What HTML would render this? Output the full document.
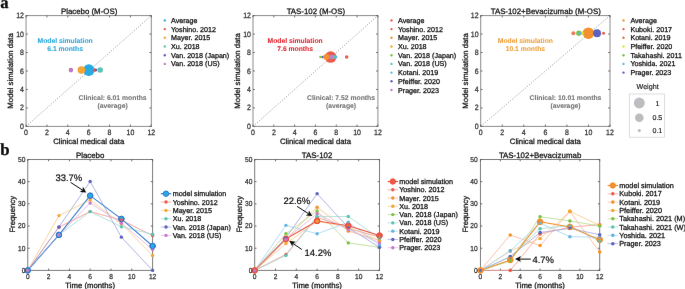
<!DOCTYPE html>
<html lang="en">
<head>
<meta charset="utf-8">
<title>Model simulation vs clinical data</title>
<style>
html,body{margin:0;padding:0;background:#fff;}
body{width:685px;height:289px;overflow:hidden;}
svg{display:block;font-family:"Liberation Sans",Arial,Helvetica,sans-serif;}
svg text{text-rendering:geometricPrecision;stroke-width:0.28px;stroke-linejoin:round;}
</style>
</head>
<body>
<svg width="685" height="289" viewBox="0 0 685 289">
<defs><filter id="soft" x="0" y="0" width="100%" height="100%" filterUnits="userSpaceOnUse" color-interpolation-filters="sRGB"><feConvolveMatrix order="3" kernelMatrix="0 0.035 0 0.035 0.86 0.035 0 0.035 0" divisor="1" edgeMode="duplicate" preserveAlpha="true"/></filter></defs>
<rect width="685" height="289" fill="#ffffff"/>
<g filter="url(#soft)">
<rect width="685" height="289" fill="#ffffff"/>
<text x="0.2" y="8.3" font-family="Liberation Serif, serif" font-weight="bold" font-size="16.6" fill="#0c0c0c" stroke="#0c0c0c" stroke-width="0.15">a</text>
<text x="0.3" y="155.2" font-family="Liberation Serif, serif" font-weight="bold" font-size="16.8" fill="#0c0c0c" stroke="#0c0c0c" stroke-width="0.15">b</text>
<line x1="26.05" y1="126.40" x2="151.30" y2="15.60" stroke="#858585" stroke-width="0.8" stroke-dasharray="1.15 1.62"/>
<circle cx="88.78" cy="70.08" r="5.8" fill="#29ABE2"/>
<circle cx="81.37" cy="70.08" r="3.8" fill="#F6A531"/>
<circle cx="70.93" cy="70.08" r="2.3" fill="#BE7ABF"/>
<circle cx="100.16" cy="70.08" r="2.75" fill="#5CC3B5"/>
<circle cx="94.73" cy="70.08" r="1.8" fill="#EB5B4C"/>
<circle cx="95.98" cy="70.08" r="1.3" fill="#5C63BE"/>
<rect x="26.05" y="15.60" width="125.25" height="110.80" fill="none" stroke="#8c8c8c" stroke-width="1"/>
<path d="M26.05 126.40v-1.8M26.05 15.60v1.8M46.93 126.40v-1.8M46.93 15.60v1.8M67.80 126.40v-1.8M67.80 15.60v1.8M88.68 126.40v-1.8M88.68 15.60v1.8M109.55 126.40v-1.8M109.55 15.60v1.8M130.43 126.40v-1.8M130.43 15.60v1.8M151.30 126.40v-1.8M151.30 15.60v1.8M26.05 126.40h1.8M151.30 126.40h-1.8M26.05 107.93h1.8M151.30 107.93h-1.8M26.05 89.47h1.8M151.30 89.47h-1.8M26.05 71.00h1.8M151.30 71.00h-1.8M26.05 52.53h1.8M151.30 52.53h-1.8M26.05 34.07h1.8M151.30 34.07h-1.8M26.05 15.60h1.8M151.30 15.60h-1.8" stroke="#5a5a5a" stroke-width="0.9" fill="none"/>
<text transform="translate(26.05 134.85) scale(0.9 1)" font-size="7.75" fill="#333333" stroke="#333333" text-anchor="middle" style="stroke-width:0.26px">0</text>
<text transform="translate(46.93 134.85) scale(0.9 1)" font-size="7.75" fill="#333333" stroke="#333333" text-anchor="middle" style="stroke-width:0.26px">2</text>
<text transform="translate(67.80 134.85) scale(0.9 1)" font-size="7.75" fill="#333333" stroke="#333333" text-anchor="middle" style="stroke-width:0.26px">4</text>
<text transform="translate(88.68 134.85) scale(0.9 1)" font-size="7.75" fill="#333333" stroke="#333333" text-anchor="middle" style="stroke-width:0.26px">6</text>
<text transform="translate(109.55 134.85) scale(0.9 1)" font-size="7.75" fill="#333333" stroke="#333333" text-anchor="middle" style="stroke-width:0.26px">8</text>
<text transform="translate(130.43 134.85) scale(0.9 1)" font-size="7.75" fill="#333333" stroke="#333333" text-anchor="middle" style="stroke-width:0.26px">10</text>
<text transform="translate(151.30 134.85) scale(0.9 1)" font-size="7.75" fill="#333333" stroke="#333333" text-anchor="middle" style="stroke-width:0.26px">12</text>
<text transform="translate(23.95 128.90) scale(0.9 1)" font-size="7.75" fill="#333333" stroke="#333333" text-anchor="end" style="stroke-width:0.26px">0</text>
<text transform="translate(23.95 110.43) scale(0.9 1)" font-size="7.75" fill="#333333" stroke="#333333" text-anchor="end" style="stroke-width:0.26px">2</text>
<text transform="translate(23.95 91.97) scale(0.9 1)" font-size="7.75" fill="#333333" stroke="#333333" text-anchor="end" style="stroke-width:0.26px">4</text>
<text transform="translate(23.95 73.50) scale(0.9 1)" font-size="7.75" fill="#333333" stroke="#333333" text-anchor="end" style="stroke-width:0.26px">6</text>
<text transform="translate(23.95 55.03) scale(0.9 1)" font-size="7.75" fill="#333333" stroke="#333333" text-anchor="end" style="stroke-width:0.26px">8</text>
<text transform="translate(23.95 36.57) scale(0.9 1)" font-size="7.75" fill="#333333" stroke="#333333" text-anchor="end" style="stroke-width:0.26px">10</text>
<text transform="translate(23.95 18.10) scale(0.9 1)" font-size="7.75" fill="#333333" stroke="#333333" text-anchor="end" style="stroke-width:0.26px">12</text>
<text x="89.08" y="13.95" font-size="7.86" fill="#141414" stroke="#141414" text-anchor="middle">Placebo (M-OS)</text>
<text x="88.68" y="144.00" font-size="7.75" fill="#141414" stroke="#141414" text-anchor="middle">Clinical medical data</text>
<text transform="translate(13.30 70.95) rotate(-90)" font-size="7.75" fill="#141414" stroke="#141414" text-anchor="middle">Model simulation data</text>
<text x="65.10" y="42.50" font-size="6.75" fill="#2AA6DD" stroke="#2AA6DD" text-anchor="middle" font-weight="bold" style="stroke-width:0.06px">Model simulation</text>
<text x="65.10" y="50.65" font-size="6.75" fill="#2AA6DD" stroke="#2AA6DD" text-anchor="middle" font-weight="bold" style="stroke-width:0.06px">6.1 months</text>
<text x="112.60" y="99.55" font-size="6.8" fill="#747474" stroke="#747474" text-anchor="middle" font-weight="bold" style="stroke-width:0.08px">Clinical: 6.01 months</text>
<text x="112.60" y="107.65" font-size="6.8" fill="#747474" stroke="#747474" text-anchor="middle" font-weight="bold" style="stroke-width:0.08px">(average)</text>
<circle cx="164.80" cy="20.40" r="1.18" fill="#29ABE2"/>
<text x="171.00" y="22.95" font-size="7.15" fill="#141414" stroke="#141414" text-anchor="start">Average</text>
<circle cx="164.80" cy="29.10" r="1.18" fill="#EB5B4C"/>
<text x="171.00" y="31.65" font-size="7.15" fill="#141414" stroke="#141414" text-anchor="start">Yoshino. 2012</text>
<circle cx="164.80" cy="37.80" r="1.18" fill="#F6A531"/>
<text x="171.00" y="40.35" font-size="7.15" fill="#141414" stroke="#141414" text-anchor="start">Mayer. 2015</text>
<circle cx="164.80" cy="46.50" r="1.18" fill="#5CC3B5"/>
<text x="171.00" y="49.05" font-size="7.15" fill="#141414" stroke="#141414" text-anchor="start">Xu. 2018</text>
<circle cx="164.80" cy="55.20" r="1.18" fill="#5C63BE"/>
<text x="171.00" y="57.75" font-size="7.15" fill="#141414" stroke="#141414" text-anchor="start">Van. 2018 (Japan)</text>
<circle cx="164.80" cy="63.90" r="1.18" fill="#C879C6"/>
<text x="171.00" y="66.45" font-size="7.15" fill="#141414" stroke="#141414" text-anchor="start">Van. 2018 (US)</text>
<line x1="253.00" y1="126.40" x2="377.90" y2="15.60" stroke="#858585" stroke-width="0.8" stroke-dasharray="1.15 1.62"/>
<circle cx="330.65" cy="57.06" r="5.75" fill="#EB5B4C"/>
<circle cx="320.55" cy="57.06" r="1.3" fill="#7DC242"/>
<circle cx="322.74" cy="57.06" r="1.2" fill="#5C63BE"/>
<circle cx="326.38" cy="57.06" r="3.0" fill="#F3902F"/>
<circle cx="335.75" cy="57.06" r="1.7" fill="#62B5E5"/>
<circle cx="333.46" cy="57.06" r="2.0" fill="#5CC3B5"/>
<circle cx="331.06" cy="57.06" r="2.2" fill="#BC86C9"/>
<circle cx="346.67" cy="57.06" r="1.75" fill="#EB5B4C"/>
<rect x="253.00" y="15.60" width="124.90" height="110.80" fill="none" stroke="#8c8c8c" stroke-width="1"/>
<path d="M253.00 126.40v-1.8M253.00 15.60v1.8M273.82 126.40v-1.8M273.82 15.60v1.8M294.63 126.40v-1.8M294.63 15.60v1.8M315.45 126.40v-1.8M315.45 15.60v1.8M336.27 126.40v-1.8M336.27 15.60v1.8M357.08 126.40v-1.8M357.08 15.60v1.8M377.90 126.40v-1.8M377.90 15.60v1.8M253.00 126.40h1.8M377.90 126.40h-1.8M253.00 107.93h1.8M377.90 107.93h-1.8M253.00 89.47h1.8M377.90 89.47h-1.8M253.00 71.00h1.8M377.90 71.00h-1.8M253.00 52.53h1.8M377.90 52.53h-1.8M253.00 34.07h1.8M377.90 34.07h-1.8M253.00 15.60h1.8M377.90 15.60h-1.8" stroke="#5a5a5a" stroke-width="0.9" fill="none"/>
<text transform="translate(253.00 134.85) scale(0.9 1)" font-size="7.75" fill="#333333" stroke="#333333" text-anchor="middle" style="stroke-width:0.26px">0</text>
<text transform="translate(273.82 134.85) scale(0.9 1)" font-size="7.75" fill="#333333" stroke="#333333" text-anchor="middle" style="stroke-width:0.26px">2</text>
<text transform="translate(294.63 134.85) scale(0.9 1)" font-size="7.75" fill="#333333" stroke="#333333" text-anchor="middle" style="stroke-width:0.26px">4</text>
<text transform="translate(315.45 134.85) scale(0.9 1)" font-size="7.75" fill="#333333" stroke="#333333" text-anchor="middle" style="stroke-width:0.26px">6</text>
<text transform="translate(336.27 134.85) scale(0.9 1)" font-size="7.75" fill="#333333" stroke="#333333" text-anchor="middle" style="stroke-width:0.26px">8</text>
<text transform="translate(357.08 134.85) scale(0.9 1)" font-size="7.75" fill="#333333" stroke="#333333" text-anchor="middle" style="stroke-width:0.26px">10</text>
<text transform="translate(377.90 134.85) scale(0.9 1)" font-size="7.75" fill="#333333" stroke="#333333" text-anchor="middle" style="stroke-width:0.26px">12</text>
<text transform="translate(250.90 128.90) scale(0.9 1)" font-size="7.75" fill="#333333" stroke="#333333" text-anchor="end" style="stroke-width:0.26px">0</text>
<text transform="translate(250.90 110.43) scale(0.9 1)" font-size="7.75" fill="#333333" stroke="#333333" text-anchor="end" style="stroke-width:0.26px">2</text>
<text transform="translate(250.90 91.97) scale(0.9 1)" font-size="7.75" fill="#333333" stroke="#333333" text-anchor="end" style="stroke-width:0.26px">4</text>
<text transform="translate(250.90 73.50) scale(0.9 1)" font-size="7.75" fill="#333333" stroke="#333333" text-anchor="end" style="stroke-width:0.26px">6</text>
<text transform="translate(250.90 55.03) scale(0.9 1)" font-size="7.75" fill="#333333" stroke="#333333" text-anchor="end" style="stroke-width:0.26px">8</text>
<text transform="translate(250.90 36.57) scale(0.9 1)" font-size="7.75" fill="#333333" stroke="#333333" text-anchor="end" style="stroke-width:0.26px">10</text>
<text transform="translate(250.90 18.10) scale(0.9 1)" font-size="7.75" fill="#333333" stroke="#333333" text-anchor="end" style="stroke-width:0.26px">12</text>
<text x="315.85" y="13.95" font-size="7.86" fill="#141414" stroke="#141414" text-anchor="middle">TAS-102 (M-OS)</text>
<text x="315.45" y="144.00" font-size="7.75" fill="#141414" stroke="#141414" text-anchor="middle">Clinical medical data</text>
<text transform="translate(239.60 70.95) rotate(-90)" font-size="7.75" fill="#141414" stroke="#141414" text-anchor="middle">Model simulation data</text>
<text x="295.10" y="42.50" font-size="6.75" fill="#E2252E" stroke="#E2252E" text-anchor="middle" font-weight="bold" style="stroke-width:0.06px">Model simulation</text>
<text x="295.10" y="50.65" font-size="6.75" fill="#E2252E" stroke="#E2252E" text-anchor="middle" font-weight="bold" style="stroke-width:0.06px">7.6 months</text>
<text x="341.00" y="99.55" font-size="6.8" fill="#747474" stroke="#747474" text-anchor="middle" font-weight="bold" style="stroke-width:0.08px">Clinical: 7.52 months</text>
<text x="341.00" y="107.65" font-size="6.8" fill="#747474" stroke="#747474" text-anchor="middle" font-weight="bold" style="stroke-width:0.08px">(average)</text>
<circle cx="391.50" cy="20.40" r="1.18" fill="#EB5B4C"/>
<text x="398.00" y="22.95" font-size="7.15" fill="#141414" stroke="#141414" text-anchor="start">Average</text>
<circle cx="391.50" cy="29.10" r="1.18" fill="#EB5B4C"/>
<text x="398.00" y="31.65" font-size="7.15" fill="#141414" stroke="#141414" text-anchor="start">Yoshino. 2012</text>
<circle cx="391.50" cy="37.80" r="1.18" fill="#F3902F"/>
<text x="398.00" y="40.35" font-size="7.15" fill="#141414" stroke="#141414" text-anchor="start">Mayer. 2015</text>
<circle cx="391.50" cy="46.50" r="1.18" fill="#F6A531"/>
<text x="398.00" y="49.05" font-size="7.15" fill="#141414" stroke="#141414" text-anchor="start">Xu. 2018</text>
<circle cx="391.50" cy="55.20" r="1.18" fill="#7DC242"/>
<text x="398.00" y="57.75" font-size="7.15" fill="#141414" stroke="#141414" text-anchor="start">Van. 2018 (Japan)</text>
<circle cx="391.50" cy="63.90" r="1.18" fill="#5CC3B5"/>
<text x="398.00" y="66.45" font-size="7.15" fill="#141414" stroke="#141414" text-anchor="start">Van. 2018 (US)</text>
<circle cx="391.50" cy="72.60" r="1.18" fill="#62B5E5"/>
<text x="398.00" y="75.15" font-size="7.15" fill="#141414" stroke="#141414" text-anchor="start">Kotani. 2019</text>
<circle cx="391.50" cy="81.30" r="1.18" fill="#5C63BE"/>
<text x="398.00" y="83.85" font-size="7.15" fill="#141414" stroke="#141414" text-anchor="start">Pfeiffer. 2020</text>
<circle cx="391.50" cy="90.00" r="1.18" fill="#C879C6"/>
<text x="398.00" y="92.55" font-size="7.15" fill="#141414" stroke="#141414" text-anchor="start">Prager. 2023</text>
<line x1="480.70" y1="126.40" x2="610.00" y2="15.60" stroke="#858585" stroke-width="0.8" stroke-dasharray="1.15 1.62"/>
<circle cx="588.45" cy="33.14" r="5.75" fill="#F3902F"/>
<circle cx="573.37" cy="33.14" r="2.0" fill="#EF7A5A"/>
<circle cx="581.77" cy="33.14" r="1.9" fill="#E9E03C"/>
<circle cx="578.75" cy="33.14" r="2.6" fill="#7DC242"/>
<circle cx="579.83" cy="33.14" r="1.5" fill="#62B5E5"/>
<circle cx="597.07" cy="33.14" r="4.0" fill="#5C63BE"/>
<circle cx="603.53" cy="33.14" r="1.5" fill="#EB5B4C"/>
<rect x="480.70" y="15.60" width="129.30" height="110.80" fill="none" stroke="#8c8c8c" stroke-width="1"/>
<path d="M480.70 126.40v-1.8M480.70 15.60v1.8M502.25 126.40v-1.8M502.25 15.60v1.8M523.80 126.40v-1.8M523.80 15.60v1.8M545.35 126.40v-1.8M545.35 15.60v1.8M566.90 126.40v-1.8M566.90 15.60v1.8M588.45 126.40v-1.8M588.45 15.60v1.8M610.00 126.40v-1.8M610.00 15.60v1.8M480.70 126.40h1.8M610.00 126.40h-1.8M480.70 107.93h1.8M610.00 107.93h-1.8M480.70 89.47h1.8M610.00 89.47h-1.8M480.70 71.00h1.8M610.00 71.00h-1.8M480.70 52.53h1.8M610.00 52.53h-1.8M480.70 34.07h1.8M610.00 34.07h-1.8M480.70 15.60h1.8M610.00 15.60h-1.8" stroke="#5a5a5a" stroke-width="0.9" fill="none"/>
<text transform="translate(480.70 134.85) scale(0.9 1)" font-size="7.75" fill="#333333" stroke="#333333" text-anchor="middle" style="stroke-width:0.26px">0</text>
<text transform="translate(502.25 134.85) scale(0.9 1)" font-size="7.75" fill="#333333" stroke="#333333" text-anchor="middle" style="stroke-width:0.26px">2</text>
<text transform="translate(523.80 134.85) scale(0.9 1)" font-size="7.75" fill="#333333" stroke="#333333" text-anchor="middle" style="stroke-width:0.26px">4</text>
<text transform="translate(545.35 134.85) scale(0.9 1)" font-size="7.75" fill="#333333" stroke="#333333" text-anchor="middle" style="stroke-width:0.26px">6</text>
<text transform="translate(566.90 134.85) scale(0.9 1)" font-size="7.75" fill="#333333" stroke="#333333" text-anchor="middle" style="stroke-width:0.26px">8</text>
<text transform="translate(588.45 134.85) scale(0.9 1)" font-size="7.75" fill="#333333" stroke="#333333" text-anchor="middle" style="stroke-width:0.26px">10</text>
<text transform="translate(610.00 134.85) scale(0.9 1)" font-size="7.75" fill="#333333" stroke="#333333" text-anchor="middle" style="stroke-width:0.26px">12</text>
<text transform="translate(478.60 128.90) scale(0.9 1)" font-size="7.75" fill="#333333" stroke="#333333" text-anchor="end" style="stroke-width:0.26px">0</text>
<text transform="translate(478.60 110.43) scale(0.9 1)" font-size="7.75" fill="#333333" stroke="#333333" text-anchor="end" style="stroke-width:0.26px">2</text>
<text transform="translate(478.60 91.97) scale(0.9 1)" font-size="7.75" fill="#333333" stroke="#333333" text-anchor="end" style="stroke-width:0.26px">4</text>
<text transform="translate(478.60 73.50) scale(0.9 1)" font-size="7.75" fill="#333333" stroke="#333333" text-anchor="end" style="stroke-width:0.26px">6</text>
<text transform="translate(478.60 55.03) scale(0.9 1)" font-size="7.75" fill="#333333" stroke="#333333" text-anchor="end" style="stroke-width:0.26px">8</text>
<text transform="translate(478.60 36.57) scale(0.9 1)" font-size="7.75" fill="#333333" stroke="#333333" text-anchor="end" style="stroke-width:0.26px">10</text>
<text transform="translate(478.60 18.10) scale(0.9 1)" font-size="7.75" fill="#333333" stroke="#333333" text-anchor="end" style="stroke-width:0.26px">12</text>
<text x="545.75" y="13.95" font-size="7.86" fill="#141414" stroke="#141414" text-anchor="middle">TAS-102+Bevacizumab (M-OS)</text>
<text x="545.35" y="144.00" font-size="7.75" fill="#141414" stroke="#141414" text-anchor="middle">Clinical medical data</text>
<text transform="translate(468.15 70.95) rotate(-90)" font-size="7.75" fill="#141414" stroke="#141414" text-anchor="middle">Model simulation data</text>
<text x="525.40" y="42.50" font-size="6.75" fill="#EFA03A" stroke="#EFA03A" text-anchor="middle" font-weight="bold" style="stroke-width:0.06px">Model simulation</text>
<text x="525.40" y="50.65" font-size="6.75" fill="#EFA03A" stroke="#EFA03A" text-anchor="middle" font-weight="bold" style="stroke-width:0.06px">10.1 months</text>
<text x="565.50" y="99.55" font-size="6.8" fill="#747474" stroke="#747474" text-anchor="middle" font-weight="bold" style="stroke-width:0.08px">Clinical: 10.01 months</text>
<text x="565.50" y="107.65" font-size="6.8" fill="#747474" stroke="#747474" text-anchor="middle" font-weight="bold" style="stroke-width:0.08px">(average)</text>
<circle cx="623.50" cy="20.40" r="1.18" fill="#F3902F"/>
<text x="630.40" y="22.95" font-size="7.15" fill="#141414" stroke="#141414" text-anchor="start">Average</text>
<circle cx="623.50" cy="29.10" r="1.18" fill="#EB5B4C"/>
<text x="630.40" y="31.65" font-size="7.15" fill="#141414" stroke="#141414" text-anchor="start">Kuboki. 2017</text>
<circle cx="623.50" cy="37.80" r="1.18" fill="#F0694A"/>
<text x="630.40" y="40.35" font-size="7.15" fill="#141414" stroke="#141414" text-anchor="start">Kotani. 2019</text>
<circle cx="623.50" cy="46.50" r="1.18" fill="#E9E03C"/>
<text x="630.40" y="49.05" font-size="7.15" fill="#141414" stroke="#141414" text-anchor="start">Pfeiffer. 2020</text>
<circle cx="623.50" cy="55.20" r="1.18" fill="#7DC242"/>
<text x="630.40" y="57.75" font-size="7.15" fill="#141414" stroke="#141414" text-anchor="start">Takahashi. 2011</text>
<circle cx="623.50" cy="63.90" r="1.18" fill="#62B5E5"/>
<text x="630.40" y="66.45" font-size="7.15" fill="#141414" stroke="#141414" text-anchor="start">Yoshida. 2021</text>
<circle cx="623.50" cy="72.60" r="1.18" fill="#5C63BE"/>
<text x="630.40" y="75.15" font-size="7.15" fill="#141414" stroke="#141414" text-anchor="start">Prager. 2023</text>
<text x="647.60" y="89.00" font-size="7.15" fill="#141414" stroke="#141414" text-anchor="middle" style="stroke-width:0.15px">Weight</text>
<rect x="629.3" y="94.0" width="35.2" height="43.2" fill="#fff" stroke="#cfcfcf" stroke-width="0.7"/>
<circle cx="639.3" cy="103.0" r="5.45" fill="#bdbdc1"/>
<text x="657.40" y="105.50" font-size="7.1" fill="#141414" stroke="#141414" text-anchor="middle" style="stroke-width:0.15px">1</text>
<circle cx="639.3" cy="117.7" r="4.3" fill="#bdbdc1"/>
<text x="657.40" y="120.20" font-size="7.1" fill="#141414" stroke="#141414" text-anchor="middle" style="stroke-width:0.15px">0.5</text>
<circle cx="639.3" cy="130.6" r="1.6" fill="#bdbdc1"/>
<text x="657.40" y="133.10" font-size="7.1" fill="#141414" stroke="#141414" text-anchor="middle" style="stroke-width:0.15px">0.1</text>
<rect x="27.75" y="159.50" width="124.85" height="110.90" fill="none" stroke="#7c7c7c" stroke-width="1"/>
<path d="M27.75 270.40v-1.8M27.75 159.50v1.8M48.56 270.40v-1.8M48.56 159.50v1.8M69.37 270.40v-1.8M69.37 159.50v1.8M90.17 270.40v-1.8M90.17 159.50v1.8M110.98 270.40v-1.8M110.98 159.50v1.8M131.79 270.40v-1.8M131.79 159.50v1.8M152.60 270.40v-1.8M152.60 159.50v1.8M27.75 270.40h1.8M152.60 270.40h-1.8M27.75 248.22h1.8M152.60 248.22h-1.8M27.75 226.04h1.8M152.60 226.04h-1.8M27.75 203.86h1.8M152.60 203.86h-1.8M27.75 181.68h1.8M152.60 181.68h-1.8M27.75 159.50h1.8M152.60 159.50h-1.8" stroke="#5a5a5a" stroke-width="0.9" fill="none"/>
<polyline points="27.75,270.40 58.96,227.15 90.17,211.62 121.39,220.05 152.60,235.58" fill="none" stroke="#F3998D" stroke-width="0.75" stroke-linejoin="round"/>
<polyline points="27.75,270.40 58.96,215.62 90.17,199.87 121.39,223.82 152.60,255.54" fill="none" stroke="#FACE8E" stroke-width="0.75" stroke-linejoin="round"/>
<polyline points="27.75,270.40 58.96,234.91 90.17,211.62 121.39,226.71 152.60,234.25" fill="none" stroke="#A5DED6" stroke-width="0.75" stroke-linejoin="round"/>
<polyline points="27.75,270.40 58.96,226.93 90.17,181.46 121.39,237.13 152.60,270.40" fill="none" stroke="#A5A9DB" stroke-width="0.75" stroke-linejoin="round"/>
<polyline points="27.75,270.40 58.96,234.91 90.17,202.97 121.39,223.16 152.60,249.55" fill="none" stroke="#E1B5E0" stroke-width="0.75" stroke-linejoin="round"/>
<polyline points="27.75,270.40 58.96,234.91 90.17,195.65 121.39,218.94 152.60,246.00" fill="none" stroke="#3B80D0" stroke-width="1.08" stroke-linejoin="round"/>
<polyline points="27.75,270.40 58.96,227.15 90.17,211.62 121.39,220.05 152.60,235.58" fill="none" stroke="#F3998D" stroke-width="0.75" stroke-linejoin="round" stroke-opacity="0.3"/>
<polyline points="27.75,270.40 58.96,215.62 90.17,199.87 121.39,223.82 152.60,255.54" fill="none" stroke="#FACE8E" stroke-width="0.75" stroke-linejoin="round" stroke-opacity="0.3"/>
<polyline points="27.75,270.40 58.96,234.91 90.17,211.62 121.39,226.71 152.60,234.25" fill="none" stroke="#A5DED6" stroke-width="0.75" stroke-linejoin="round" stroke-opacity="0.3"/>
<polyline points="27.75,270.40 58.96,226.93 90.17,181.46 121.39,237.13 152.60,270.40" fill="none" stroke="#A5A9DB" stroke-width="0.75" stroke-linejoin="round" stroke-opacity="0.3"/>
<polyline points="27.75,270.40 58.96,234.91 90.17,202.97 121.39,223.16 152.60,249.55" fill="none" stroke="#E1B5E0" stroke-width="0.75" stroke-linejoin="round" stroke-opacity="0.3"/>
<circle cx="27.75" cy="270.40" r="2.72" fill="#2AABE3" stroke="#2C72CA" stroke-width="0.9"/>
<circle cx="58.96" cy="234.91" r="2.72" fill="#2AABE3" stroke="#2C72CA" stroke-width="0.9"/>
<circle cx="90.17" cy="195.65" r="2.72" fill="#2AABE3" stroke="#2C72CA" stroke-width="0.9"/>
<circle cx="121.39" cy="218.94" r="2.72" fill="#2AABE3" stroke="#2C72CA" stroke-width="0.9"/>
<circle cx="152.60" cy="246.00" r="2.72" fill="#2AABE3" stroke="#2C72CA" stroke-width="0.9"/>
<circle cx="27.75" cy="270.40" r="1.4" fill="#EB5B4C"/>
<circle cx="58.96" cy="227.15" r="1.7" fill="#EB5B4C"/>
<circle cx="90.17" cy="211.62" r="1.7" fill="#EB5B4C"/>
<circle cx="121.39" cy="220.05" r="1.7" fill="#EB5B4C"/>
<circle cx="152.60" cy="235.58" r="1.7" fill="#EB5B4C"/>
<circle cx="27.75" cy="270.40" r="1.4" fill="#F6A531"/>
<circle cx="58.96" cy="215.62" r="1.7" fill="#F6A531"/>
<circle cx="90.17" cy="199.87" r="1.7" fill="#F6A531"/>
<circle cx="121.39" cy="223.82" r="1.7" fill="#F6A531"/>
<circle cx="152.60" cy="255.54" r="1.7" fill="#F6A531"/>
<circle cx="27.75" cy="270.40" r="1.4" fill="#5CC3B5"/>
<circle cx="58.96" cy="234.91" r="1.7" fill="#5CC3B5"/>
<circle cx="90.17" cy="211.62" r="1.7" fill="#5CC3B5"/>
<circle cx="121.39" cy="226.71" r="1.7" fill="#5CC3B5"/>
<circle cx="152.60" cy="234.25" r="1.7" fill="#5CC3B5"/>
<circle cx="27.75" cy="270.40" r="1.4" fill="#5C63BE"/>
<circle cx="58.96" cy="226.93" r="1.7" fill="#5C63BE"/>
<circle cx="90.17" cy="181.46" r="1.7" fill="#5C63BE"/>
<circle cx="121.39" cy="237.13" r="1.7" fill="#5C63BE"/>
<circle cx="152.60" cy="270.40" r="1.7" fill="#5C63BE"/>
<circle cx="27.75" cy="270.40" r="1.4" fill="#C879C6"/>
<circle cx="58.96" cy="234.91" r="1.7" fill="#C879C6"/>
<circle cx="90.17" cy="202.97" r="1.7" fill="#C879C6"/>
<circle cx="121.39" cy="223.16" r="1.7" fill="#C879C6"/>
<circle cx="152.60" cy="249.55" r="1.7" fill="#C879C6"/>
<circle cx="27.75" cy="270.40" r="2.72" fill="none" stroke="#2C72CA" stroke-width="0.9"/>
<circle cx="58.96" cy="234.91" r="2.72" fill="none" stroke="#2C72CA" stroke-width="0.9"/>
<circle cx="90.17" cy="195.65" r="2.72" fill="none" stroke="#2C72CA" stroke-width="0.9"/>
<circle cx="121.39" cy="218.94" r="2.72" fill="none" stroke="#2C72CA" stroke-width="0.9"/>
<circle cx="152.60" cy="246.00" r="2.72" fill="none" stroke="#2C72CA" stroke-width="0.9"/>
<text transform="translate(27.75 278.65) scale(0.92 1)" font-size="7.2" fill="#333333" stroke="#333333" text-anchor="middle" style="stroke-width:0.26px">0</text>
<text transform="translate(48.56 278.65) scale(0.92 1)" font-size="7.2" fill="#333333" stroke="#333333" text-anchor="middle" style="stroke-width:0.26px">2</text>
<text transform="translate(69.37 278.65) scale(0.92 1)" font-size="7.2" fill="#333333" stroke="#333333" text-anchor="middle" style="stroke-width:0.26px">4</text>
<text transform="translate(90.17 278.65) scale(0.92 1)" font-size="7.2" fill="#333333" stroke="#333333" text-anchor="middle" style="stroke-width:0.26px">6</text>
<text transform="translate(110.98 278.65) scale(0.92 1)" font-size="7.2" fill="#333333" stroke="#333333" text-anchor="middle" style="stroke-width:0.26px">8</text>
<text transform="translate(131.79 278.65) scale(0.92 1)" font-size="7.2" fill="#333333" stroke="#333333" text-anchor="middle" style="stroke-width:0.26px">10</text>
<text transform="translate(152.60 278.65) scale(0.92 1)" font-size="7.2" fill="#333333" stroke="#333333" text-anchor="middle" style="stroke-width:0.26px">12</text>
<text transform="translate(25.40 272.70) scale(0.92 1)" font-size="7.2" fill="#333333" stroke="#333333" text-anchor="end" style="stroke-width:0.26px">0</text>
<text transform="translate(25.40 250.52) scale(0.92 1)" font-size="7.2" fill="#333333" stroke="#333333" text-anchor="end" style="stroke-width:0.26px">10</text>
<text transform="translate(25.40 228.34) scale(0.92 1)" font-size="7.2" fill="#333333" stroke="#333333" text-anchor="end" style="stroke-width:0.26px">20</text>
<text transform="translate(25.40 206.16) scale(0.92 1)" font-size="7.2" fill="#333333" stroke="#333333" text-anchor="end" style="stroke-width:0.26px">30</text>
<text transform="translate(25.40 183.98) scale(0.92 1)" font-size="7.2" fill="#333333" stroke="#333333" text-anchor="end" style="stroke-width:0.26px">40</text>
<text transform="translate(25.40 161.80) scale(0.92 1)" font-size="7.2" fill="#333333" stroke="#333333" text-anchor="end" style="stroke-width:0.26px">50</text>
<text x="90.17" y="157.60" font-size="7.88" fill="#141414" stroke="#141414" text-anchor="middle">Placebo</text>
<text x="90.17" y="287.80" font-size="7.75" fill="#141414" stroke="#141414" text-anchor="middle">Time (months)</text>
<text transform="translate(15.15 214.3) rotate(-90)" font-size="7.75" fill="#141414" stroke="#141414" text-anchor="middle">Frequency</text>
<line x1="160.80" y1="193.70" x2="171.20" y2="193.70" stroke="#2C72CA" stroke-width="1.15"/>
<circle cx="166.00" cy="193.70" r="2.72" fill="#2AABE3" stroke="#2C72CA" stroke-width="0.9"/>
<text x="172.70" y="196.25" font-size="7.15" fill="#141414" stroke="#141414" text-anchor="start">model simulation</text>
<line x1="160.80" y1="202.04" x2="171.20" y2="202.04" stroke="#F3998D" stroke-width="0.75"/>
<circle cx="166.00" cy="202.04" r="1.7" fill="#EB5B4C"/>
<text x="172.70" y="204.59" font-size="7.15" fill="#141414" stroke="#141414" text-anchor="start">Yoshino. 2012</text>
<line x1="160.80" y1="210.38" x2="171.20" y2="210.38" stroke="#FACE8E" stroke-width="0.75"/>
<circle cx="166.00" cy="210.38" r="1.7" fill="#F6A531"/>
<text x="172.70" y="212.93" font-size="7.15" fill="#141414" stroke="#141414" text-anchor="start">Mayer. 2015</text>
<line x1="160.80" y1="218.72" x2="171.20" y2="218.72" stroke="#A5DED6" stroke-width="0.75"/>
<circle cx="166.00" cy="218.72" r="1.7" fill="#5CC3B5"/>
<text x="172.70" y="221.27" font-size="7.15" fill="#141414" stroke="#141414" text-anchor="start">Xu. 2018</text>
<line x1="160.80" y1="227.06" x2="171.20" y2="227.06" stroke="#A5A9DB" stroke-width="0.75"/>
<circle cx="166.00" cy="227.06" r="1.7" fill="#5C63BE"/>
<text x="172.70" y="229.61" font-size="7.15" fill="#141414" stroke="#141414" text-anchor="start">Van. 2018 (Japan)</text>
<line x1="160.80" y1="235.40" x2="171.20" y2="235.40" stroke="#E1B5E0" stroke-width="0.75"/>
<circle cx="166.00" cy="235.40" r="1.7" fill="#C879C6"/>
<text x="172.70" y="237.95" font-size="7.15" fill="#141414" stroke="#141414" text-anchor="start">Van. 2018 (US)</text>
<text x="55.50" y="181.30" font-size="9.45" fill="#0a0a0a" stroke="#0a0a0a" text-anchor="start" style="stroke-width:0.2px">33.7%</text>
<line x1="70.60" y1="182.40" x2="82.61" y2="190.20" stroke="#0a0a0a" stroke-width="1.0"/>
<polygon points="86.30,192.60 79.72,191.90 82.44,190.09 82.99,186.87" fill="#111"/>
<rect x="254.70" y="159.50" width="124.80" height="110.90" fill="none" stroke="#7c7c7c" stroke-width="1"/>
<path d="M254.70 270.40v-1.8M254.70 159.50v1.8M275.50 270.40v-1.8M275.50 159.50v1.8M296.30 270.40v-1.8M296.30 159.50v1.8M317.10 270.40v-1.8M317.10 159.50v1.8M337.90 270.40v-1.8M337.90 159.50v1.8M358.70 270.40v-1.8M358.70 159.50v1.8M379.50 270.40v-1.8M379.50 159.50v1.8M254.70 270.40h1.8M379.50 270.40h-1.8M254.70 248.22h1.8M379.50 248.22h-1.8M254.70 226.04h1.8M379.50 226.04h-1.8M254.70 203.86h1.8M379.50 203.86h-1.8M254.70 181.68h1.8M379.50 181.68h-1.8M254.70 159.50h1.8M379.50 159.50h-1.8" stroke="#5a5a5a" stroke-width="0.9" fill="none"/>
<polyline points="254.70,270.40 285.90,254.43 317.10,217.17 348.30,228.26 379.50,237.13" fill="none" stroke="#F3998D" stroke-width="0.75" stroke-linejoin="round"/>
<polyline points="254.70,270.40 285.90,239.35 317.10,207.19 348.30,231.14 379.50,240.24" fill="none" stroke="#F8C28D" stroke-width="0.75" stroke-linejoin="round"/>
<polyline points="254.70,270.40 285.90,243.56 317.10,221.16 348.30,227.15 379.50,240.68" fill="none" stroke="#FACE8E" stroke-width="0.75" stroke-linejoin="round"/>
<polyline points="254.70,270.40 285.90,233.80 317.10,210.96 348.30,242.90 379.50,247.33" fill="none" stroke="#B8DD97" stroke-width="0.75" stroke-linejoin="round"/>
<polyline points="254.70,270.40 285.90,255.54 317.10,216.50 348.30,216.50 379.50,238.24" fill="none" stroke="#A5DED6" stroke-width="0.75" stroke-linejoin="round"/>
<polyline points="254.70,270.40 285.90,225.37 317.10,233.80 348.30,222.27 379.50,244.89" fill="none" stroke="#A9D6F1" stroke-width="0.75" stroke-linejoin="round"/>
<polyline points="254.70,270.40 285.90,237.80 317.10,193.66 348.30,227.59 379.50,247.33" fill="none" stroke="#A5A9DB" stroke-width="0.75" stroke-linejoin="round"/>
<polyline points="254.70,270.40 285.90,239.57 317.10,213.62 348.30,229.59 379.50,242.90" fill="none" stroke="#E1B5E0" stroke-width="0.75" stroke-linejoin="round"/>
<polyline points="254.70,270.40 285.90,238.90 317.10,220.94 348.30,225.82 379.50,235.58" fill="none" stroke="#EE4B37" stroke-width="1.08" stroke-linejoin="round"/>
<polyline points="254.70,270.40 285.90,254.43 317.10,217.17 348.30,228.26 379.50,237.13" fill="none" stroke="#F3998D" stroke-width="0.75" stroke-linejoin="round" stroke-opacity="0.3"/>
<polyline points="254.70,270.40 285.90,239.35 317.10,207.19 348.30,231.14 379.50,240.24" fill="none" stroke="#F8C28D" stroke-width="0.75" stroke-linejoin="round" stroke-opacity="0.3"/>
<polyline points="254.70,270.40 285.90,243.56 317.10,221.16 348.30,227.15 379.50,240.68" fill="none" stroke="#FACE8E" stroke-width="0.75" stroke-linejoin="round" stroke-opacity="0.3"/>
<polyline points="254.70,270.40 285.90,233.80 317.10,210.96 348.30,242.90 379.50,247.33" fill="none" stroke="#B8DD97" stroke-width="0.75" stroke-linejoin="round" stroke-opacity="0.3"/>
<polyline points="254.70,270.40 285.90,255.54 317.10,216.50 348.30,216.50 379.50,238.24" fill="none" stroke="#A5DED6" stroke-width="0.75" stroke-linejoin="round" stroke-opacity="0.3"/>
<polyline points="254.70,270.40 285.90,225.37 317.10,233.80 348.30,222.27 379.50,244.89" fill="none" stroke="#A9D6F1" stroke-width="0.75" stroke-linejoin="round" stroke-opacity="0.3"/>
<polyline points="254.70,270.40 285.90,237.80 317.10,193.66 348.30,227.59 379.50,247.33" fill="none" stroke="#A5A9DB" stroke-width="0.75" stroke-linejoin="round" stroke-opacity="0.3"/>
<polyline points="254.70,270.40 285.90,239.57 317.10,213.62 348.30,229.59 379.50,242.90" fill="none" stroke="#E1B5E0" stroke-width="0.75" stroke-linejoin="round" stroke-opacity="0.3"/>
<circle cx="254.70" cy="270.40" r="2.72" fill="#EB5B4C" stroke="#EE4B37" stroke-width="0.9"/>
<circle cx="285.90" cy="238.90" r="2.72" fill="#EB5B4C" stroke="#EE4B37" stroke-width="0.9"/>
<circle cx="317.10" cy="220.94" r="2.72" fill="#EB5B4C" stroke="#EE4B37" stroke-width="0.9"/>
<circle cx="348.30" cy="225.82" r="2.72" fill="#EB5B4C" stroke="#EE4B37" stroke-width="0.9"/>
<circle cx="379.50" cy="235.58" r="2.72" fill="#EB5B4C" stroke="#EE4B37" stroke-width="0.9"/>
<circle cx="254.70" cy="270.40" r="1.4" fill="#EB5B4C"/>
<circle cx="285.90" cy="254.43" r="1.7" fill="#EB5B4C"/>
<circle cx="317.10" cy="217.17" r="1.7" fill="#EB5B4C"/>
<circle cx="348.30" cy="228.26" r="1.7" fill="#EB5B4C"/>
<circle cx="379.50" cy="237.13" r="1.7" fill="#EB5B4C"/>
<circle cx="254.70" cy="270.40" r="1.4" fill="#F3902F"/>
<circle cx="285.90" cy="239.35" r="1.7" fill="#F3902F"/>
<circle cx="317.10" cy="207.19" r="1.7" fill="#F3902F"/>
<circle cx="348.30" cy="231.14" r="1.7" fill="#F3902F"/>
<circle cx="379.50" cy="240.24" r="1.7" fill="#F3902F"/>
<circle cx="254.70" cy="270.40" r="1.4" fill="#F6A531"/>
<circle cx="285.90" cy="243.56" r="1.7" fill="#F6A531"/>
<circle cx="317.10" cy="221.16" r="1.7" fill="#F6A531"/>
<circle cx="348.30" cy="227.15" r="1.7" fill="#F6A531"/>
<circle cx="379.50" cy="240.68" r="1.7" fill="#F6A531"/>
<circle cx="254.70" cy="270.40" r="1.4" fill="#7DC242"/>
<circle cx="285.90" cy="233.80" r="1.7" fill="#7DC242"/>
<circle cx="317.10" cy="210.96" r="1.7" fill="#7DC242"/>
<circle cx="348.30" cy="242.90" r="1.7" fill="#7DC242"/>
<circle cx="379.50" cy="247.33" r="1.7" fill="#7DC242"/>
<circle cx="254.70" cy="270.40" r="1.4" fill="#5CC3B5"/>
<circle cx="285.90" cy="255.54" r="1.7" fill="#5CC3B5"/>
<circle cx="317.10" cy="216.50" r="1.7" fill="#5CC3B5"/>
<circle cx="348.30" cy="216.50" r="1.7" fill="#5CC3B5"/>
<circle cx="379.50" cy="238.24" r="1.7" fill="#5CC3B5"/>
<circle cx="254.70" cy="270.40" r="1.4" fill="#62B5E5"/>
<circle cx="285.90" cy="225.37" r="1.7" fill="#62B5E5"/>
<circle cx="317.10" cy="233.80" r="1.7" fill="#62B5E5"/>
<circle cx="348.30" cy="222.27" r="1.7" fill="#62B5E5"/>
<circle cx="379.50" cy="244.89" r="1.7" fill="#62B5E5"/>
<circle cx="254.70" cy="270.40" r="1.4" fill="#5C63BE"/>
<circle cx="285.90" cy="237.80" r="1.7" fill="#5C63BE"/>
<circle cx="317.10" cy="193.66" r="1.7" fill="#5C63BE"/>
<circle cx="348.30" cy="227.59" r="1.7" fill="#5C63BE"/>
<circle cx="379.50" cy="247.33" r="1.7" fill="#5C63BE"/>
<circle cx="254.70" cy="270.40" r="1.4" fill="#C879C6"/>
<circle cx="285.90" cy="239.57" r="1.7" fill="#C879C6"/>
<circle cx="317.10" cy="213.62" r="1.7" fill="#C879C6"/>
<circle cx="348.30" cy="229.59" r="1.7" fill="#C879C6"/>
<circle cx="379.50" cy="242.90" r="1.7" fill="#C879C6"/>
<circle cx="254.70" cy="270.40" r="2.72" fill="none" stroke="#EE4B37" stroke-width="0.9"/>
<circle cx="285.90" cy="238.90" r="2.72" fill="none" stroke="#EE4B37" stroke-width="0.9"/>
<circle cx="317.10" cy="220.94" r="2.72" fill="none" stroke="#EE4B37" stroke-width="0.9"/>
<circle cx="348.30" cy="225.82" r="2.72" fill="none" stroke="#EE4B37" stroke-width="0.9"/>
<circle cx="379.50" cy="235.58" r="2.72" fill="none" stroke="#EE4B37" stroke-width="0.9"/>
<text transform="translate(254.70 278.65) scale(0.92 1)" font-size="7.2" fill="#333333" stroke="#333333" text-anchor="middle" style="stroke-width:0.26px">0</text>
<text transform="translate(275.50 278.65) scale(0.92 1)" font-size="7.2" fill="#333333" stroke="#333333" text-anchor="middle" style="stroke-width:0.26px">2</text>
<text transform="translate(296.30 278.65) scale(0.92 1)" font-size="7.2" fill="#333333" stroke="#333333" text-anchor="middle" style="stroke-width:0.26px">4</text>
<text transform="translate(317.10 278.65) scale(0.92 1)" font-size="7.2" fill="#333333" stroke="#333333" text-anchor="middle" style="stroke-width:0.26px">6</text>
<text transform="translate(337.90 278.65) scale(0.92 1)" font-size="7.2" fill="#333333" stroke="#333333" text-anchor="middle" style="stroke-width:0.26px">8</text>
<text transform="translate(358.70 278.65) scale(0.92 1)" font-size="7.2" fill="#333333" stroke="#333333" text-anchor="middle" style="stroke-width:0.26px">10</text>
<text transform="translate(379.50 278.65) scale(0.92 1)" font-size="7.2" fill="#333333" stroke="#333333" text-anchor="middle" style="stroke-width:0.26px">12</text>
<text transform="translate(252.35 272.70) scale(0.92 1)" font-size="7.2" fill="#333333" stroke="#333333" text-anchor="end" style="stroke-width:0.26px">0</text>
<text transform="translate(252.35 250.52) scale(0.92 1)" font-size="7.2" fill="#333333" stroke="#333333" text-anchor="end" style="stroke-width:0.26px">10</text>
<text transform="translate(252.35 228.34) scale(0.92 1)" font-size="7.2" fill="#333333" stroke="#333333" text-anchor="end" style="stroke-width:0.26px">20</text>
<text transform="translate(252.35 206.16) scale(0.92 1)" font-size="7.2" fill="#333333" stroke="#333333" text-anchor="end" style="stroke-width:0.26px">30</text>
<text transform="translate(252.35 183.98) scale(0.92 1)" font-size="7.2" fill="#333333" stroke="#333333" text-anchor="end" style="stroke-width:0.26px">40</text>
<text transform="translate(252.35 161.80) scale(0.92 1)" font-size="7.2" fill="#333333" stroke="#333333" text-anchor="end" style="stroke-width:0.26px">50</text>
<text x="317.10" y="157.60" font-size="7.88" fill="#141414" stroke="#141414" text-anchor="middle">TAS-102</text>
<text x="317.10" y="287.80" font-size="7.75" fill="#141414" stroke="#141414" text-anchor="middle">Time (months)</text>
<text transform="translate(242.10 214.3) rotate(-90)" font-size="7.75" fill="#141414" stroke="#141414" text-anchor="middle">Frequency</text>
<line x1="387.60" y1="181.50" x2="398.00" y2="181.50" stroke="#EE4B37" stroke-width="1.15"/>
<circle cx="392.80" cy="181.50" r="2.72" fill="#EB5B4C" stroke="#EE4B37" stroke-width="0.9"/>
<text x="399.20" y="184.05" font-size="7.2" fill="#141414" stroke="#141414" text-anchor="start">model simulation</text>
<line x1="387.60" y1="189.78" x2="398.00" y2="189.78" stroke="#F3998D" stroke-width="0.75"/>
<circle cx="392.80" cy="189.78" r="1.7" fill="#EB5B4C"/>
<text x="399.20" y="192.33" font-size="7.2" fill="#141414" stroke="#141414" text-anchor="start">Yoshino. 2012</text>
<line x1="387.60" y1="198.05" x2="398.00" y2="198.05" stroke="#F8C28D" stroke-width="0.75"/>
<circle cx="392.80" cy="198.05" r="1.7" fill="#F3902F"/>
<text x="399.20" y="200.60" font-size="7.2" fill="#141414" stroke="#141414" text-anchor="start">Mayer. 2015</text>
<line x1="387.60" y1="206.32" x2="398.00" y2="206.32" stroke="#FACE8E" stroke-width="0.75"/>
<circle cx="392.80" cy="206.32" r="1.7" fill="#F6A531"/>
<text x="399.20" y="208.88" font-size="7.2" fill="#141414" stroke="#141414" text-anchor="start">Xu. 2018</text>
<line x1="387.60" y1="214.60" x2="398.00" y2="214.60" stroke="#B8DD97" stroke-width="0.75"/>
<circle cx="392.80" cy="214.60" r="1.7" fill="#7DC242"/>
<text x="399.20" y="217.15" font-size="7.2" fill="#141414" stroke="#141414" text-anchor="start">Van. 2018 (Japan)</text>
<line x1="387.60" y1="222.88" x2="398.00" y2="222.88" stroke="#A5DED6" stroke-width="0.75"/>
<circle cx="392.80" cy="222.88" r="1.7" fill="#5CC3B5"/>
<text x="399.20" y="225.43" font-size="7.2" fill="#141414" stroke="#141414" text-anchor="start">Van. 2018 (US)</text>
<line x1="387.60" y1="231.15" x2="398.00" y2="231.15" stroke="#A9D6F1" stroke-width="0.75"/>
<circle cx="392.80" cy="231.15" r="1.7" fill="#62B5E5"/>
<text x="399.20" y="233.70" font-size="7.2" fill="#141414" stroke="#141414" text-anchor="start">Kotani. 2019</text>
<line x1="387.60" y1="239.43" x2="398.00" y2="239.43" stroke="#A5A9DB" stroke-width="0.75"/>
<circle cx="392.80" cy="239.43" r="1.7" fill="#5C63BE"/>
<text x="399.20" y="241.98" font-size="7.2" fill="#141414" stroke="#141414" text-anchor="start">Pfeiffer. 2020</text>
<line x1="387.60" y1="247.70" x2="398.00" y2="247.70" stroke="#E1B5E0" stroke-width="0.75"/>
<circle cx="392.80" cy="247.70" r="1.7" fill="#C879C6"/>
<text x="399.20" y="250.25" font-size="7.2" fill="#141414" stroke="#141414" text-anchor="start">Prager. 2023</text>
<text x="283.40" y="204.20" font-size="9.45" fill="#0a0a0a" stroke="#0a0a0a" text-anchor="start" style="stroke-width:0.2px">22.6%</text>
<line x1="297.10" y1="206.40" x2="308.59" y2="213.73" stroke="#0a0a0a" stroke-width="1.0"/>
<polygon points="312.30,216.10 305.71,215.46 308.42,213.63 308.94,210.40" fill="#111"/>
<text x="304.60" y="255.90" font-size="9.45" fill="#0a0a0a" stroke="#0a0a0a" text-anchor="start" style="stroke-width:0.2px">14.2%</text>
<line x1="301.80" y1="249.50" x2="292.82" y2="243.30" stroke="#0a0a0a" stroke-width="1.0"/>
<polygon points="289.20,240.80 295.76,241.68 292.99,243.41 292.35,246.62" fill="#111"/>
<rect x="480.45" y="159.50" width="119.25" height="110.90" fill="none" stroke="#7c7c7c" stroke-width="1"/>
<path d="M480.45 270.40v-1.8M480.45 159.50v1.8M500.32 270.40v-1.8M500.32 159.50v1.8M520.20 270.40v-1.8M520.20 159.50v1.8M540.08 270.40v-1.8M540.08 159.50v1.8M559.95 270.40v-1.8M559.95 159.50v1.8M579.83 270.40v-1.8M579.83 159.50v1.8M599.70 270.40v-1.8M599.70 159.50v1.8M480.45 270.40h1.8M599.70 270.40h-1.8M480.45 248.22h1.8M599.70 248.22h-1.8M480.45 226.04h1.8M599.70 226.04h-1.8M480.45 203.86h1.8M599.70 203.86h-1.8M480.45 181.68h1.8M599.70 181.68h-1.8M480.45 159.50h1.8M599.70 159.50h-1.8" stroke="#5a5a5a" stroke-width="0.9" fill="none"/>
<polyline points="480.45,270.40 510.26,270.40 540.08,234.02 569.89,227.15 599.70,224.71" fill="none" stroke="#F4A196" stroke-width="0.75" stroke-linejoin="round"/>
<polyline points="480.45,270.40 510.26,234.91 540.08,245.56 569.89,211.40 599.70,251.99" fill="none" stroke="#F9B9A3" stroke-width="0.75" stroke-linejoin="round"/>
<polyline points="480.45,270.40 510.26,250.88 540.08,238.46 569.89,211.40 599.70,225.37" fill="none" stroke="#FACE8E" stroke-width="0.75" stroke-linejoin="round"/>
<polyline points="480.45,270.40 510.26,261.08 540.08,216.72 569.89,220.94 599.70,226.04" fill="none" stroke="#B8DD97" stroke-width="0.75" stroke-linejoin="round"/>
<polyline points="480.45,270.40 510.26,256.87 540.08,228.70 569.89,225.60 599.70,241.57" fill="none" stroke="#A5DED6" stroke-width="0.75" stroke-linejoin="round"/>
<polyline points="480.45,270.40 510.26,250.88 540.08,223.16 569.89,236.69 599.70,237.13" fill="none" stroke="#A9D6F1" stroke-width="0.75" stroke-linejoin="round"/>
<polyline points="480.45,270.40 510.26,256.65 540.08,232.47 569.89,228.48 599.70,234.69" fill="none" stroke="#A5A9DB" stroke-width="0.75" stroke-linejoin="round"/>
<polyline points="480.45,270.40 510.26,259.98 540.08,221.83 569.89,226.93 599.70,239.79" fill="none" stroke="#F28C28" stroke-width="1.08" stroke-linejoin="round"/>
<polyline points="480.45,270.40 510.26,270.40 540.08,234.02 569.89,227.15 599.70,224.71" fill="none" stroke="#F4A196" stroke-width="0.75" stroke-linejoin="round" stroke-opacity="0.3"/>
<polyline points="480.45,270.40 510.26,234.91 540.08,245.56 569.89,211.40 599.70,251.99" fill="none" stroke="#F9B9A3" stroke-width="0.75" stroke-linejoin="round" stroke-opacity="0.3"/>
<polyline points="480.45,270.40 510.26,250.88 540.08,238.46 569.89,211.40 599.70,225.37" fill="none" stroke="#FACE8E" stroke-width="0.75" stroke-linejoin="round" stroke-opacity="0.3"/>
<polyline points="480.45,270.40 510.26,261.08 540.08,216.72 569.89,220.94 599.70,226.04" fill="none" stroke="#B8DD97" stroke-width="0.75" stroke-linejoin="round" stroke-opacity="0.3"/>
<polyline points="480.45,270.40 510.26,256.87 540.08,228.70 569.89,225.60 599.70,241.57" fill="none" stroke="#A5DED6" stroke-width="0.75" stroke-linejoin="round" stroke-opacity="0.3"/>
<polyline points="480.45,270.40 510.26,250.88 540.08,223.16 569.89,236.69 599.70,237.13" fill="none" stroke="#A9D6F1" stroke-width="0.75" stroke-linejoin="round" stroke-opacity="0.3"/>
<polyline points="480.45,270.40 510.26,256.65 540.08,232.47 569.89,228.48 599.70,234.69" fill="none" stroke="#A5A9DB" stroke-width="0.75" stroke-linejoin="round" stroke-opacity="0.3"/>
<circle cx="480.45" cy="270.40" r="2.72" fill="#F3902F" stroke="#F28C28" stroke-width="0.9"/>
<circle cx="510.26" cy="259.98" r="2.72" fill="#F3902F" stroke="#F28C28" stroke-width="0.9"/>
<circle cx="540.08" cy="221.83" r="2.72" fill="#F3902F" stroke="#F28C28" stroke-width="0.9"/>
<circle cx="569.89" cy="226.93" r="2.72" fill="#F3902F" stroke="#F28C28" stroke-width="0.9"/>
<circle cx="599.70" cy="239.79" r="2.72" fill="#F3902F" stroke="#F28C28" stroke-width="0.9"/>
<circle cx="480.45" cy="270.40" r="1.4" fill="#EB5B4C"/>
<circle cx="510.26" cy="270.40" r="1.78" fill="#EB5B4C"/>
<circle cx="540.08" cy="234.02" r="1.78" fill="#EB5B4C"/>
<circle cx="569.89" cy="227.15" r="1.78" fill="#EB5B4C"/>
<circle cx="599.70" cy="224.71" r="1.78" fill="#EB5B4C"/>
<circle cx="480.45" cy="270.40" r="1.4" fill="#F7941D"/>
<circle cx="510.26" cy="234.91" r="1.78" fill="#F7941D"/>
<circle cx="540.08" cy="245.56" r="1.78" fill="#F7941D"/>
<circle cx="569.89" cy="211.40" r="1.78" fill="#F7941D"/>
<circle cx="599.70" cy="251.99" r="1.78" fill="#F7941D"/>
<circle cx="480.45" cy="270.40" r="1.4" fill="#F6A531"/>
<circle cx="510.26" cy="250.88" r="1.78" fill="#F6A531"/>
<circle cx="540.08" cy="238.46" r="1.78" fill="#F6A531"/>
<circle cx="569.89" cy="211.40" r="1.78" fill="#F6A531"/>
<circle cx="599.70" cy="225.37" r="1.78" fill="#F6A531"/>
<circle cx="480.45" cy="270.40" r="1.4" fill="#7DC242"/>
<circle cx="510.26" cy="261.08" r="1.78" fill="#7DC242"/>
<circle cx="540.08" cy="216.72" r="1.78" fill="#7DC242"/>
<circle cx="569.89" cy="220.94" r="1.78" fill="#7DC242"/>
<circle cx="599.70" cy="226.04" r="1.78" fill="#7DC242"/>
<circle cx="480.45" cy="270.40" r="1.4" fill="#5CC3B5"/>
<circle cx="510.26" cy="256.87" r="1.78" fill="#5CC3B5"/>
<circle cx="540.08" cy="228.70" r="1.78" fill="#5CC3B5"/>
<circle cx="569.89" cy="225.60" r="1.78" fill="#5CC3B5"/>
<circle cx="599.70" cy="241.57" r="1.78" fill="#5CC3B5"/>
<circle cx="480.45" cy="270.40" r="1.4" fill="#62B5E5"/>
<circle cx="510.26" cy="250.88" r="1.78" fill="#62B5E5"/>
<circle cx="540.08" cy="223.16" r="1.78" fill="#62B5E5"/>
<circle cx="569.89" cy="236.69" r="1.78" fill="#62B5E5"/>
<circle cx="599.70" cy="237.13" r="1.78" fill="#62B5E5"/>
<circle cx="480.45" cy="270.40" r="1.4" fill="#5C63BE"/>
<circle cx="510.26" cy="256.65" r="1.78" fill="#5C63BE"/>
<circle cx="540.08" cy="232.47" r="1.78" fill="#5C63BE"/>
<circle cx="569.89" cy="228.48" r="1.78" fill="#5C63BE"/>
<circle cx="599.70" cy="234.69" r="1.78" fill="#5C63BE"/>
<circle cx="480.45" cy="270.40" r="2.72" fill="none" stroke="#F28C28" stroke-width="0.9"/>
<circle cx="510.26" cy="259.98" r="2.72" fill="none" stroke="#F28C28" stroke-width="0.9"/>
<circle cx="540.08" cy="221.83" r="2.72" fill="none" stroke="#F28C28" stroke-width="0.9"/>
<circle cx="569.89" cy="226.93" r="2.72" fill="none" stroke="#F28C28" stroke-width="0.9"/>
<circle cx="599.70" cy="239.79" r="2.72" fill="none" stroke="#F28C28" stroke-width="0.9"/>
<text transform="translate(480.45 278.65) scale(0.92 1)" font-size="7.2" fill="#333333" stroke="#333333" text-anchor="middle" style="stroke-width:0.26px">0</text>
<text transform="translate(500.32 278.65) scale(0.92 1)" font-size="7.2" fill="#333333" stroke="#333333" text-anchor="middle" style="stroke-width:0.26px">2</text>
<text transform="translate(520.20 278.65) scale(0.92 1)" font-size="7.2" fill="#333333" stroke="#333333" text-anchor="middle" style="stroke-width:0.26px">4</text>
<text transform="translate(540.08 278.65) scale(0.92 1)" font-size="7.2" fill="#333333" stroke="#333333" text-anchor="middle" style="stroke-width:0.26px">6</text>
<text transform="translate(559.95 278.65) scale(0.92 1)" font-size="7.2" fill="#333333" stroke="#333333" text-anchor="middle" style="stroke-width:0.26px">8</text>
<text transform="translate(579.83 278.65) scale(0.92 1)" font-size="7.2" fill="#333333" stroke="#333333" text-anchor="middle" style="stroke-width:0.26px">10</text>
<text transform="translate(599.70 278.65) scale(0.92 1)" font-size="7.2" fill="#333333" stroke="#333333" text-anchor="middle" style="stroke-width:0.26px">12</text>
<text transform="translate(477.65 272.70) scale(0.92 1)" font-size="7.2" fill="#333333" stroke="#333333" text-anchor="end" style="stroke-width:0.26px">0</text>
<text transform="translate(477.65 250.52) scale(0.92 1)" font-size="7.2" fill="#333333" stroke="#333333" text-anchor="end" style="stroke-width:0.26px">10</text>
<text transform="translate(477.65 228.34) scale(0.92 1)" font-size="7.2" fill="#333333" stroke="#333333" text-anchor="end" style="stroke-width:0.26px">20</text>
<text transform="translate(477.65 206.16) scale(0.92 1)" font-size="7.2" fill="#333333" stroke="#333333" text-anchor="end" style="stroke-width:0.26px">30</text>
<text transform="translate(477.65 183.98) scale(0.92 1)" font-size="7.2" fill="#333333" stroke="#333333" text-anchor="end" style="stroke-width:0.26px">40</text>
<text transform="translate(477.65 161.80) scale(0.92 1)" font-size="7.2" fill="#333333" stroke="#333333" text-anchor="end" style="stroke-width:0.26px">50</text>
<text x="540.08" y="157.60" font-size="7.88" fill="#141414" stroke="#141414" text-anchor="middle">TAS-102+Bevacizumab</text>
<text x="540.08" y="287.80" font-size="7.75" fill="#141414" stroke="#141414" text-anchor="middle">Time (months)</text>
<text transform="translate(467.85 214.3) rotate(-90)" font-size="7.75" fill="#141414" stroke="#141414" text-anchor="middle">Frequency</text>
<line x1="607.60" y1="185.50" x2="618.00" y2="185.50" stroke="#F28C28" stroke-width="1.15"/>
<circle cx="612.80" cy="185.50" r="2.72" fill="#F3902F" stroke="#F28C28" stroke-width="0.9"/>
<text x="619.25" y="188.05" font-size="7.28" fill="#141414" stroke="#141414" text-anchor="start">model simulation</text>
<line x1="607.60" y1="193.81" x2="618.00" y2="193.81" stroke="#F4A196" stroke-width="0.75"/>
<circle cx="612.80" cy="193.81" r="1.78" fill="#EB5B4C"/>
<text x="619.25" y="196.36" font-size="7.28" fill="#141414" stroke="#141414" text-anchor="start">Kuboki. 2017</text>
<line x1="607.60" y1="202.12" x2="618.00" y2="202.12" stroke="#F9B9A3" stroke-width="0.75"/>
<circle cx="612.80" cy="202.12" r="1.78" fill="#F7941D"/>
<text x="619.25" y="204.67" font-size="7.28" fill="#141414" stroke="#141414" text-anchor="start">Kotani. 2019</text>
<line x1="607.60" y1="210.43" x2="618.00" y2="210.43" stroke="#FACE8E" stroke-width="0.75"/>
<circle cx="612.80" cy="210.43" r="1.78" fill="#F6A531"/>
<text x="619.25" y="212.98" font-size="7.28" fill="#141414" stroke="#141414" text-anchor="start">Pfeiffer. 2020</text>
<line x1="607.60" y1="218.74" x2="618.00" y2="218.74" stroke="#B8DD97" stroke-width="0.75"/>
<circle cx="612.80" cy="218.74" r="1.78" fill="#7DC242"/>
<text x="619.25" y="221.29" font-size="7.28" fill="#141414" stroke="#141414" text-anchor="start">Takahashi. 2021 (M)</text>
<line x1="607.60" y1="227.05" x2="618.00" y2="227.05" stroke="#A5DED6" stroke-width="0.75"/>
<circle cx="612.80" cy="227.05" r="1.78" fill="#5CC3B5"/>
<text x="619.25" y="229.60" font-size="7.28" fill="#141414" stroke="#141414" text-anchor="start">Takahashi. 2021 (W)</text>
<line x1="607.60" y1="235.36" x2="618.00" y2="235.36" stroke="#A9D6F1" stroke-width="0.75"/>
<circle cx="612.80" cy="235.36" r="1.78" fill="#62B5E5"/>
<text x="619.25" y="237.91" font-size="7.28" fill="#141414" stroke="#141414" text-anchor="start">Yoshida. 2021</text>
<line x1="607.60" y1="243.67" x2="618.00" y2="243.67" stroke="#A5A9DB" stroke-width="0.75"/>
<circle cx="612.80" cy="243.67" r="1.78" fill="#5C63BE"/>
<text x="619.25" y="246.22" font-size="7.28" fill="#141414" stroke="#141414" text-anchor="start">Prager. 2023</text>
<text x="532.50" y="263.20" font-size="9.45" fill="#0a0a0a" stroke="#0a0a0a" text-anchor="start" style="stroke-width:0.2px">4.7%</text>
<line x1="530.80" y1="259.10" x2="519.40" y2="259.10" stroke="#0a0a0a" stroke-width="1.0"/>
<polygon points="515.00,259.10 520.90,256.10 519.60,259.10 520.90,262.10" fill="#111"/>
</g>
</svg>
</body>
</html>
